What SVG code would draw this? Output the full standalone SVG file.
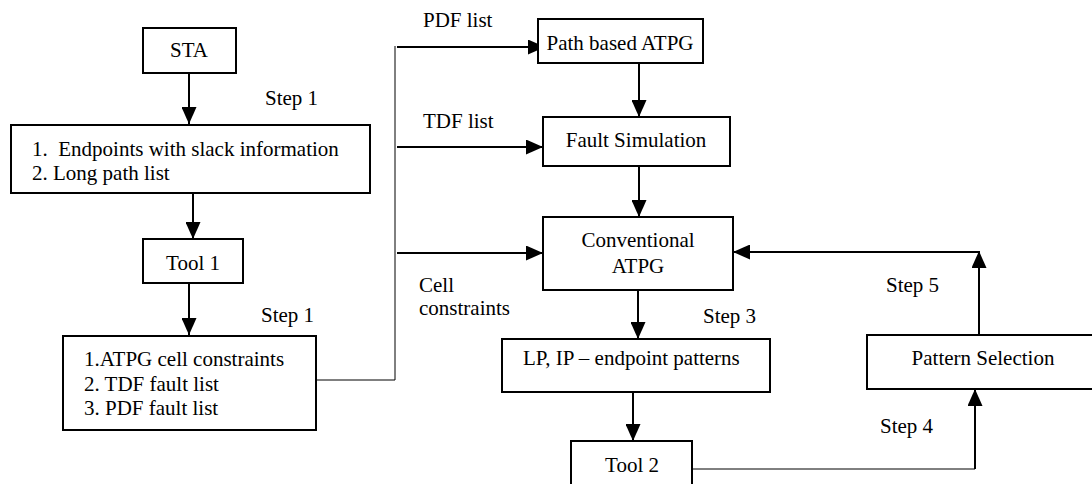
<svg xmlns="http://www.w3.org/2000/svg" width="1092" height="484" viewBox="0 0 1092 484" font-family="'Liberation Serif', 'DejaVu Serif', serif">
<style>
  text { font-family: 'Liberation Serif', 'DejaVu Serif', serif; font-size: 21px; fill: #000; white-space: pre; }
  .c { text-anchor: middle; }
  .box { fill: #fff; stroke: #000; stroke-width: 2; }
  .arr { fill: none; stroke: #000; stroke-width: 2; marker-end: url(#ah); }
  .thin { fill: none; stroke: #000; stroke-width: 1; }
</style>
<defs>
  <marker id="ah" viewBox="0 0 17 15" refX="17" refY="7.5" markerWidth="17" markerHeight="15" markerUnits="userSpaceOnUse" orient="auto">
    <path d="M0,0 L17,7.5 L0,15 z" fill="#000"/>
  </marker>
</defs>
<rect width="1092" height="484" fill="#fff"/>

<g id="connectors">
  <path class="arr" d="M189,73 V124"/>
  <path class="arr" d="M193,193 V239"/>
  <path class="arr" d="M189,283 V335"/>
  <path class="thin" d="M316,380 H395 V46"/>
  <path class="arr" d="M397,47 H545"/>
  <path class="arr" d="M397,147 H543"/>
  <path class="arr" d="M397,253 H543"/>
  <path class="arr" d="M639,63 V117"/>
  <path class="arr" d="M639,166 V217"/>
  <path class="arr" d="M638,290 V339"/>
  <path class="arr" d="M633,392 V441"/>
  <path class="thin" d="M692,469 H975"/>
  <path class="arr" d="M975,469 V389"/>
  <path class="arr" d="M979,335 V251"/>
  <path class="arr" d="M979,252 H733"/>
</g>

<g id="labels">
  <text x="265" y="105">Step 1</text>
  <text x="261" y="322">Step 1</text>
  <text x="423" y="27">PDF list</text>
  <text x="423" y="128">TDF list</text>
  <text x="419" y="292">Cell</text>
  <text x="419" y="315">constraints</text>
  <text x="703" y="323">Step 3</text>
  <text x="880" y="433">Step 4</text>
  <text x="886" y="292">Step 5</text>
</g>

<g id="sta">
  <rect class="box" x="143" y="28" width="93" height="45"/>
  <text class="c" x="189" y="57">STA</text>
</g>
<g id="endpoints">
  <rect class="box" x="11" y="125" width="359" height="68"/>
  <text x="32" y="156">1.  Endpoints with slack information</text>
  <text x="32" y="180">2. Long path list</text>
</g>
<g id="tool1">
  <rect class="box" x="143" y="239" width="100" height="44"/>
  <text class="c" x="193" y="270">Tool 1</text>
</g>
<g id="lists">
  <rect class="box" x="63" y="336" width="253" height="94"/>
  <text x="84" y="366">1.ATPG cell constraints</text>
  <text x="84" y="391">2. TDF fault list</text>
  <text x="84" y="415">3. PDF fault list</text>
</g>
<g id="pathatpg">
  <rect class="box" x="538" y="19" width="165" height="44"/>
  <text class="c" x="620" y="50">Path based ATPG</text>
</g>
<g id="faultsim">
  <rect class="box" x="543" y="117" width="187" height="49"/>
  <text class="c" x="636" y="147">Fault Simulation</text>
</g>
<g id="conventional">
  <rect class="box" x="543" y="217" width="190" height="73"/>
  <text class="c" x="638" y="247">Conventional</text>
  <text class="c" x="638" y="273">ATPG</text>
</g>
<g id="lpip">
  <rect class="box" x="502" y="339" width="268" height="53"/>
  <text x="523" y="365">LP, IP – endpoint patterns</text>
</g>
<g id="tool2">
  <rect class="box" x="571" y="441" width="121" height="60"/>
  <text class="c" x="632" y="472">Tool 2</text>
</g>
<g id="patternsel">
  <rect class="box" x="867" y="335" width="240" height="54"/>
  <text class="c" x="983" y="365">Pattern Selection</text>
</g>
</svg>
